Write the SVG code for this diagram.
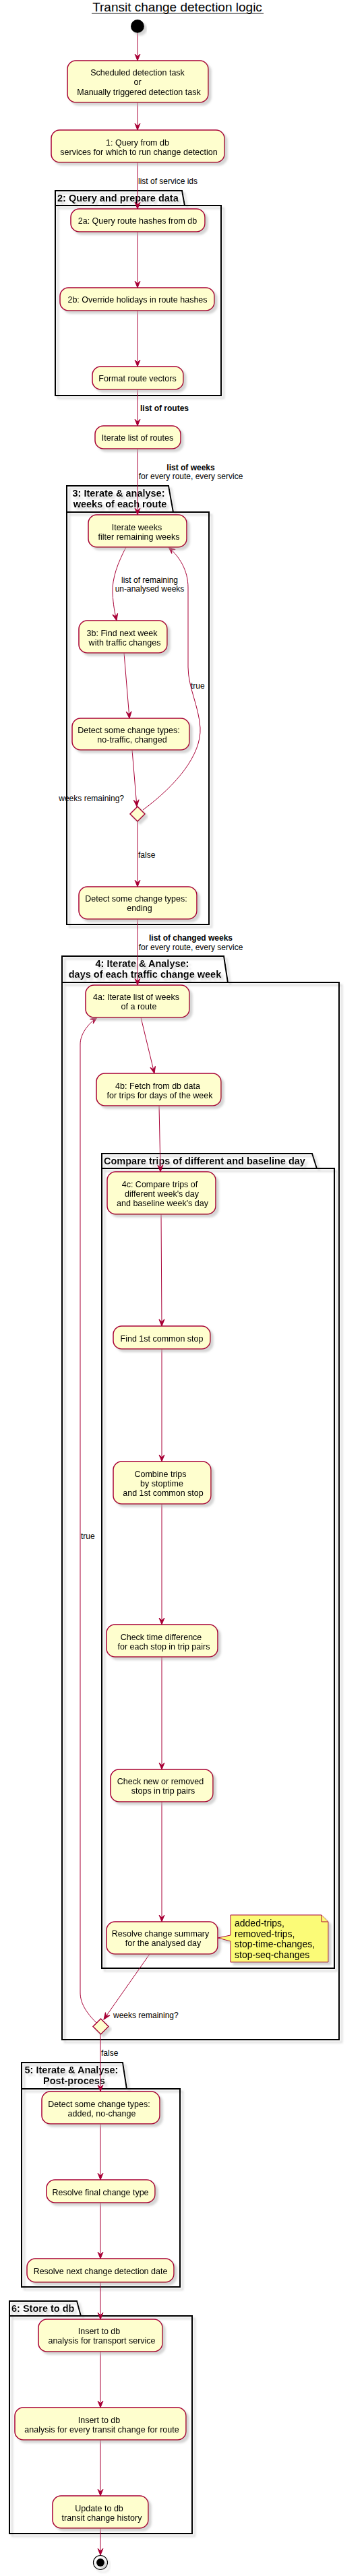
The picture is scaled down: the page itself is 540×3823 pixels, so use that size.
<svg xmlns="http://www.w3.org/2000/svg" width="540" height="3823" viewBox="0 0 540 3823">
<style>
.bg{fill:#ffffff}
.act{fill:#FEFECE;stroke:#A80036;stroke-width:1.5}
.pkg{fill:none;stroke:#000000;stroke-width:2}
.note{fill:#FBFB77;stroke:#A80036;stroke-width:1}
.e{fill:none;stroke:#A80036;stroke-width:1}
.t{font-family:"Liberation Sans",Arial,sans-serif;font-size:12.5px;text-anchor:middle;fill:#000}
.l{font-family:"Liberation Sans",Arial,sans-serif;font-size:12px;fill:#000}
.lb{font-family:"Liberation Sans",Arial,sans-serif;font-size:12px;font-weight:bold;fill:#000}
.pt{font-family:"Liberation Sans",Arial,sans-serif;font-size:14.5px;font-weight:bold;fill:#000}
.nt{font-family:"Liberation Sans",Arial,sans-serif;font-size:14px;fill:#000}
</style>
<defs>
<filter id="sh" x="-10%" y="-10%" width="130%" height="140%">
<feGaussianBlur in="SourceAlpha" stdDeviation="1.8" result="b"/>
<feOffset in="b" dx="4" dy="4" result="o"/>
<feColorMatrix in="o" type="matrix" values="0 0 0 0 0.45  0 0 0 0 0.45  0 0 0 0 0.45  0 0 0 0.55 0" result="c"/>
<feMerge><feMergeNode in="c"/><feMergeNode in="SourceGraphic"/></feMerge>
</filter>
<marker id="ah" markerUnits="userSpaceOnUse" markerWidth="12" markerHeight="10" viewBox="-11 -5 12 10" refX="0" refY="0" orient="auto">
<path d="M0,0 L-10,-4 L-6,0 L-10,4 Z" fill="#A80036" stroke="#A80036" stroke-width="1"/>
</marker>
</defs>
<rect class="bg" x="0" y="0" width="540" height="3823"/>

<g id="title">
<text x="263" y="17" style="font-family:'Liberation Sans',Arial,sans-serif;font-size:19px;text-anchor:middle">Transit change detection logic</text>
<line x1="136" y1="19.5" x2="391" y2="19.5" stroke="#000" stroke-width="1"/>
</g>

<g id="packages">
<g id="pkg2" filter="url(#sh)">
<path class="pkg" d="M82,283 L270,283 L274,305 L328,305 L328,587 L82,587 Z"/>
<line class="pkg" x1="82" y1="305" x2="274" y2="305"/>
<text class="pt" x="85" y="299">2: Query and prepare data</text>
</g>
<g id="pkg3" filter="url(#sh)">
<path class="pkg" d="M99,721 L250,721 L257,760 L310,760 L310,1372 L99,1372 Z"/>
<line class="pkg" x1="99" y1="760" x2="257" y2="760"/>
<text class="pt" x="176" y="737" text-anchor="middle">3: Iterate &amp; analyse:</text>
<text class="pt" x="178" y="753" text-anchor="middle">weeks of each route</text>
</g>
<g id="pkg4" filter="url(#sh)">
<path class="pkg" d="M92,1419 L332,1419 L338,1458 L503,1458 L503,3027 L92,3027 Z"/>
<line class="pkg" x1="92" y1="1458" x2="338" y2="1458"/>
<text class="pt" x="211" y="1435" text-anchor="middle">4: Iterate &amp; Analyse:</text>
<text class="pt" x="215" y="1451" text-anchor="middle">days of each traffic change week</text>
</g>
<g id="pkg4c" filter="url(#sh)">
<path class="pkg" d="M151,1712 L463,1712 L470,1734 L496,1734 L496,2921 L151,2921 Z"/>
<line class="pkg" x1="151" y1="1734" x2="470" y2="1734"/>
<text class="pt" x="154" y="1728">Compare trips of different and baseline day</text>
</g>
<g id="pkg5" filter="url(#sh)">
<path class="pkg" d="M32,3061 L182,3061 L188,3100 L267,3100 L267,3394 L32,3394 Z"/>
<line class="pkg" x1="32" y1="3100" x2="188" y2="3100"/>
<text class="pt" x="106" y="3077" text-anchor="middle">5: Iterate &amp; Analyse:</text>
<text class="pt" x="110" y="3093" text-anchor="middle">Post-process</text>
</g>
<g id="pkg6" filter="url(#sh)">
<path class="pkg" d="M14,3415 L114,3415 L120,3437 L285,3437 L285,3760 L14,3760 Z"/>
<line class="pkg" x1="14" y1="3437" x2="120" y2="3437"/>
<text class="pt" x="17" y="3431">6: Store to db</text>
</g>
</g>

<g id="connectors">
<path class="e" marker-end="url(#ah)" d="M204,49 L204,90"/>
<path class="e" marker-end="url(#ah)" d="M204,152 L204,193"/>
<path class="e" marker-end="url(#ah)" d="M204,241 L204,310"/>
<path class="e" marker-end="url(#ah)" d="M204,344 L204,427"/>
<path class="e" marker-end="url(#ah)" d="M204,461 L204,544"/>
<path class="e" marker-end="url(#ah)" d="M204,578 L204,632"/>
<path class="e" marker-end="url(#ah)" d="M204,666 L204,764"/>
<path class="e" marker-end="url(#ah)" d="M187,812 C175,835 166,858 167,880 C168,898 170,908 173,921"/>
<path class="e" marker-end="url(#ah)" d="M184,969 L192,1066"/>
<path class="e" marker-end="url(#ah)" d="M196,1113 L203,1197"/>
<path class="e" marker-end="url(#ah)" d="M212,1202 C262,1165 299,1120 297,1080 C295,1048 279,1020 279,990 L279,872 C279,846 266,826 250,812"/>
<path class="e" marker-end="url(#ah)" d="M204,1219 L204,1316"/>
<path class="e" marker-end="url(#ah)" d="M204,1364 L204,1462"/>
<path class="e" marker-end="url(#ah)" d="M209,1510 L229,1593"/>
<path class="e" marker-end="url(#ah)" d="M236,1641 L238,1739"/>
<path class="e" marker-end="url(#ah)" d="M239,1802 L240,1968"/>
<path class="e" marker-end="url(#ah)" d="M240,2002 L240,2169"/>
<path class="e" marker-end="url(#ah)" d="M240,2232 L240,2411"/>
<path class="e" marker-end="url(#ah)" d="M240,2459 L240,2626"/>
<path class="e" marker-end="url(#ah)" d="M240,2674 L240,2852"/>
<path class="e" marker-end="url(#ah)" d="M222,2900 L154,2997"/>
<path class="e" marker-end="url(#ah)" d="M143,3002 C127,2986 119,2972 119,2957 L119,1550 C119,1535 130,1520 144,1510"/>
<path class="e" marker-end="url(#ah)" d="M149,3019 L149,3104"/>
<path class="e" marker-end="url(#ah)" d="M149,3152 L149,3235"/>
<path class="e" marker-end="url(#ah)" d="M149,3269 L149,3352"/>
<path class="e" marker-end="url(#ah)" d="M149,3387 L149,3442"/>
<path class="e" marker-end="url(#ah)" d="M149,3490 L149,3573"/>
<path class="e" marker-end="url(#ah)" d="M149,3621 L149,3704"/>
<path class="e" marker-end="url(#ah)" d="M149,3752 L149,3792"/>
<text class="l" x="205" y="273">list of service ids</text>
<text class="lb" x="208" y="610">list of routes</text>
<text class="lb" x="283" y="698" text-anchor="middle">list of weeks</text>
<text class="l" x="283" y="711" text-anchor="middle">for every route, every service</text>
<text class="l" x="222" y="865" text-anchor="middle">list of remaining</text>
<text class="l" x="222" y="878" text-anchor="middle">un-analysed weeks</text>
<text class="l" x="283" y="1022">true</text>
<text class="l" x="184" y="1189" text-anchor="end">weeks remaining?</text>
<text class="l" x="205" y="1273">false</text>
<text class="lb" x="283" y="1396" text-anchor="middle">list of changed weeks</text>
<text class="l" x="283" y="1410" text-anchor="middle">for every route, every service</text>
<text class="l" x="120" y="2284">true</text>
<text class="l" x="168" y="2995">weeks remaining?</text>
<text class="l" x="150" y="3051">false</text>
</g>

<g id="start" filter="url(#sh)"><circle cx="204" cy="39" r="10" fill="#000"/></g>

<g id="n_trigger" filter="url(#sh)">
<rect class="act" x="100" y="90" width="209" height="62" rx="12.5"/>
<text class="t" x="204" y="111.5">Scheduled detection task</text>
<text class="t" x="204" y="126">or</text>
<text class="t" x="206" y="140.5">Manually triggered detection task</text>
</g>
<g id="n_query" filter="url(#sh)">
<rect class="act" x="76" y="193" width="257" height="48" rx="12.5"/>
<text class="t" x="204" y="215.5">1: Query from db</text>
<text class="t" x="206" y="229.5">services for which to run change detection</text>
</g>
<g id="n_2a" filter="url(#sh)">
<rect class="act" x="105" y="310" width="199" height="34" rx="12.5"/>
<text class="t" x="204" y="331.5">2a: Query route hashes from db</text>
</g>
<g id="n_2b" filter="url(#sh)">
<rect class="act" x="89" y="427" width="229" height="34" rx="12.5"/>
<text class="t" x="204" y="448.5">2b: Override holidays in route hashes</text>
</g>
<g id="n_format" filter="url(#sh)">
<rect class="act" x="137" y="544" width="135" height="34" rx="12.5"/>
<text class="t" x="204" y="565.5">Format route vectors</text>
</g>
<g id="n_routes" filter="url(#sh)">
<rect class="act" x="141" y="632" width="127" height="34" rx="12.5"/>
<text class="t" x="204" y="654">Iterate list of routes</text>
</g>
<g id="n_weeks" filter="url(#sh)">
<rect class="act" x="131" y="764" width="146" height="48" rx="12.5"/>
<text class="t" x="203" y="786.5">Iterate weeks</text>
<text class="t" x="206" y="800.5">filter remaining weeks</text>
</g>
<g id="n_3b" filter="url(#sh)">
<rect class="act" x="117" y="921" width="131" height="48" rx="12.5"/>
<text class="t" x="181" y="943.5">3b: Find next week</text>
<text class="t" x="185" y="957.5">with traffic changes</text>
</g>
<g id="n_detect1" filter="url(#sh)">
<rect class="act" x="107" y="1066" width="174" height="47" rx="12.5"/>
<text class="t" x="191" y="1087.5">Detect some change types:</text>
<text class="t" x="196" y="1101.5">no-traffic, changed</text>
</g>
<g id="d_weeks1" filter="url(#sh)">
<polygon class="act" points="204,1197 215,1208 204,1219 193,1208"/>
</g>
<g id="n_ending" filter="url(#sh)">
<rect class="act" x="117" y="1316" width="175" height="48" rx="12.5"/>
<text class="t" x="202" y="1337.5">Detect some change types:</text>
<text class="t" x="207" y="1352">ending</text>
</g>
<g id="n_4a" filter="url(#sh)">
<rect class="act" x="127" y="1462" width="154" height="48" rx="12.5"/>
<text class="t" x="202" y="1483.5">4a: Iterate list of weeks</text>
<text class="t" x="206" y="1497.5">of a route</text>
</g>
<g id="n_4b" filter="url(#sh)">
<rect class="act" x="143" y="1593" width="185" height="48" rx="12.5"/>
<text class="t" x="234" y="1615.5">4b: Fetch from db data</text>
<text class="t" x="237" y="1629.5">for trips for days of the week</text>
</g>
<g id="n_4c" filter="url(#sh)">
<rect class="act" x="159" y="1739" width="161" height="63" rx="12.5"/>
<text class="t" x="237" y="1761.5">4c: Compare trips of</text>
<text class="t" x="240" y="1775.5">different week's day</text>
<text class="t" x="241" y="1789.5">and baseline week's day</text>
</g>
<g id="n_find" filter="url(#sh)">
<rect class="act" x="168" y="1968" width="144" height="34" rx="12.5"/>
<text class="t" x="240" y="1990.5">Find 1st common stop</text>
</g>
<g id="n_combine" filter="url(#sh)">
<rect class="act" x="168" y="2169" width="145" height="63" rx="12.5"/>
<text class="t" x="238" y="2191.5">Combine trips</text>
<text class="t" x="240" y="2205.5">by stoptime</text>
<text class="t" x="242" y="2219.5">and 1st common stop</text>
</g>
<g id="n_timediff" filter="url(#sh)">
<rect class="act" x="158" y="2411" width="165" height="48" rx="12.5"/>
<text class="t" x="239" y="2433.5">Check time difference</text>
<text class="t" x="243" y="2447.5">for each stop in trip pairs</text>
</g>
<g id="n_stops" filter="url(#sh)">
<rect class="act" x="164" y="2626" width="152" height="48" rx="12.5"/>
<text class="t" x="238" y="2647.5">Check new or removed</text>
<text class="t" x="242" y="2662">stops in trip pairs</text>
</g>
<g id="n_summary" filter="url(#sh)">
<rect class="act" x="158" y="2852" width="165" height="48" rx="12.5"/>
<text class="t" x="238" y="2873.5">Resolve change summary</text>
<text class="t" x="242" y="2887.5">for the analysed day</text>
</g>
<g id="note_summary" filter="url(#sh)">
<path class="note" d="M342,2842 L477,2842 L487,2852 L487,2912 L342,2912 L342,2881 L323,2876 L342,2872 Z"/>
<path class="note" d="M477,2842 L477,2852 L487,2852"/>
<text class="nt" x="348" y="2859">added-trips,</text>
<text class="nt" x="348" y="2874.5">removed-trips,</text>
<text class="nt" x="348" y="2890">stop-time-changes,</text>
<text class="nt" x="348" y="2905.5">stop-seq-changes</text>
</g>
<g id="d_weeks2" filter="url(#sh)">
<polygon class="act" points="149.5,2996 161,3007.5 149.5,3019 138,3007.5"/>
</g>
<g id="n_added" filter="url(#sh)">
<rect class="act" x="62" y="3104" width="175" height="48" rx="12.5"/>
<text class="t" x="147" y="3126.5">Detect some change types:</text>
<text class="t" x="151" y="3140.5">added, no-change</text>
</g>
<g id="n_final" filter="url(#sh)">
<rect class="act" x="69" y="3235" width="161" height="34" rx="12.5"/>
<text class="t" x="149" y="3257.5">Resolve final change type</text>
</g>
<g id="n_next" filter="url(#sh)">
<rect class="act" x="40" y="3352" width="218" height="35" rx="12.5"/>
<text class="t" x="149" y="3374.5">Resolve next change detection date</text>
</g>
<g id="n_insert1" filter="url(#sh)">
<rect class="act" x="57" y="3442" width="184" height="48" rx="12.5"/>
<text class="t" x="147" y="3463.5">Insert to db</text>
<text class="t" x="151" y="3477.5">analysis for transport service</text>
</g>
<g id="n_insert2" filter="url(#sh)">
<rect class="act" x="22" y="3573" width="254" height="48" rx="12.5"/>
<text class="t" x="147" y="3595.5">Insert to db</text>
<text class="t" x="151" y="3609.5">analysis for every transit change for route</text>
</g>
<g id="n_update" filter="url(#sh)">
<rect class="act" x="78" y="3704" width="142" height="48" rx="12.5"/>
<text class="t" x="147" y="3726.5">Update to db</text>
<text class="t" x="151" y="3740.5">transit change history</text>
</g>
<g id="end" filter="url(#sh)">
<circle cx="149" cy="3803" r="10.5" fill="none" stroke="#000" stroke-width="1.2"/>
<circle cx="149" cy="3803" r="6" fill="#000"/>
</g>
</svg>
